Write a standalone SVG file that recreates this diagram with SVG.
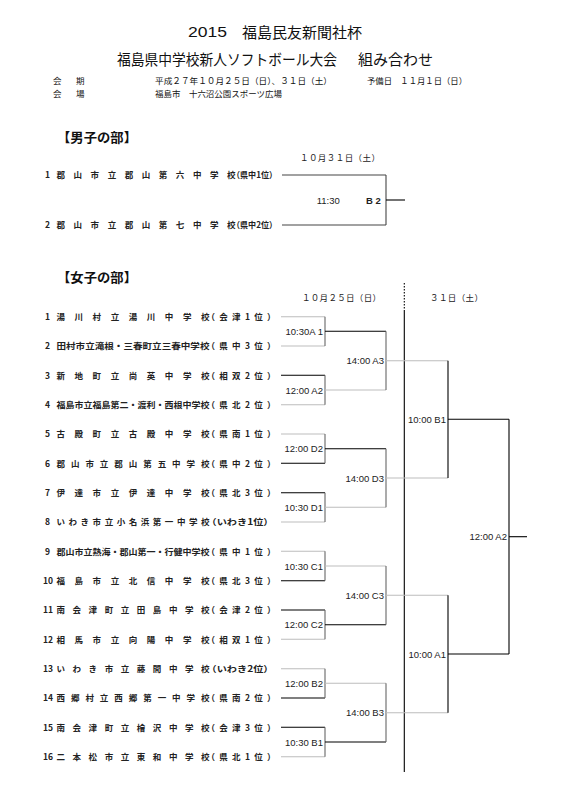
<svg xmlns="http://www.w3.org/2000/svg" width="570" height="787" viewBox="0 0 570 787">
<style>
.j{font-family:"Noto Sans CJK JP","Noto Sans CJK SC",sans-serif;fill:#111}
.ttl{font-size:15px}
.info{font-size:8.5px}
.sec{font-size:13px;font-weight:bold}
.team{font-size:8.5px;font-weight:bold;fill:#222}
.hd{font-size:8.5px;fill:#222}
.tm{font-family:"Liberation Sans",Arial,sans-serif;font-size:9.5px;fill:#222}
.lat{font-family:"Liberation Sans",Arial,sans-serif;font-size:15.5px;fill:#111}
line{stroke-width:1.1;fill:none}
.k{stroke:#000}
.g{stroke:#bdbdbd}
.m{stroke:#666}
.d{stroke:#444}
</style>
<rect width="570" height="787" fill="#fff"/>

<g id="title">
<text class="lat" x="188" y="37" textLength="39" lengthAdjust="spacingAndGlyphs">2015</text>
<text class="j ttl" x="242" y="37.5" textLength="120" lengthAdjust="spacingAndGlyphs">福島民友新聞社杯</text>
<text class="j ttl" x="117" y="65" textLength="220" lengthAdjust="spacingAndGlyphs">福島県中学校新人ソフトボール大会</text>
<text class="j ttl" x="358" y="65" textLength="75" lengthAdjust="spacingAndGlyphs">組み合わせ</text>
</g>
<g id="info">
<text class="j info" x="53" y="84.2">会</text>
<text class="j info" x="76" y="84.2">期</text>
<text class="j info" x="155" y="84.2" textLength="177" lengthAdjust="spacingAndGlyphs">平成２７年１０月２５日（日）、３１日（土）</text>
<text class="j info" x="367" y="84.2" textLength="100" lengthAdjust="spacingAndGlyphs">予備日　１１月１日（日）</text>
<text class="j info" x="53" y="97.2">会</text>
<text class="j info" x="76" y="97.2">場</text>
<text class="j info" x="155" y="97.2" textLength="127" lengthAdjust="spacingAndGlyphs">福島市　十六沼公園スポーツ広場</text>
</g>

<g id="boys-header">
<text class="j sec" x="57" y="141.6" textLength="80" lengthAdjust="spacingAndGlyphs">【男子の部】</text>
<text class="j hd" x="300" y="161.4" textLength="80" lengthAdjust="spacing">１０月３１日（土）</text>
</g>
<g id="boys-1"><text class="j team" x="45" y="178.2">1</text><text class="j team" x="56.5" y="178.2" textLength="179" lengthAdjust="spacing">郡山市立郡山第六中学校</text><text class="j team" x="232" y="178.2" textLength="45" lengthAdjust="spacingAndGlyphs">（県中1位）</text></g>
<g id="boys-2"><text class="j team" x="45" y="228.2">2</text><text class="j team" x="56.5" y="228.2" textLength="179" lengthAdjust="spacing">郡山市立郡山第七中学校</text><text class="j team" x="232" y="228.2" textLength="45" lengthAdjust="spacingAndGlyphs">（県中2位）</text></g>
<g id="boys-match"><text class="tm" x="316.7" y="203.5">11:30</text><text class="tm" x="366" y="203.5" font-weight="bold">B 2</text></g>

<g id="girls-header">
<text class="j sec" x="57" y="281.6" textLength="80" lengthAdjust="spacingAndGlyphs">【女子の部】</text>
<text class="j hd" x="302" y="301.2" textLength="79" lengthAdjust="spacing">１０月２５日（日）</text>
<text class="j hd" x="430" y="301.2" textLength="53" lengthAdjust="spacing">３１日（土）</text>
</g>

<g id="g1"><text class="j team" x="45" y="319.9">1</text><text class="j team" x="56.5" y="319.9" textLength="153" lengthAdjust="spacing">湯川村立湯川中学校</text><text class="j team" x="206.5" y="319.9" textLength="69" lengthAdjust="spacing">（会津1位）</text></g>
<g id="g2"><text class="j team" x="45" y="349.2">2</text><text class="j team" x="56.5" y="349.2" textLength="153" lengthAdjust="spacingAndGlyphs">田村市立滝根・三春町立三春中学校</text><text class="j team" x="206.5" y="349.2" textLength="69" lengthAdjust="spacing">（県中3位）</text></g>
<g id="g3"><text class="j team" x="45" y="378.5">3</text><text class="j team" x="56.5" y="378.5" textLength="153" lengthAdjust="spacing">新地町立尚英中学校</text><text class="j team" x="206.5" y="378.5" textLength="69" lengthAdjust="spacing">（相双2位）</text></g>
<g id="g4"><text class="j team" x="45" y="407.9">4</text><text class="j team" x="56.5" y="407.9" textLength="153" lengthAdjust="spacingAndGlyphs">福島市立福島第二・渡利・西根中学校</text><text class="j team" x="206.5" y="407.9" textLength="69" lengthAdjust="spacing">（県北2位）</text></g>
<g id="g5"><text class="j team" x="45" y="437.2">5</text><text class="j team" x="56.5" y="437.2" textLength="153" lengthAdjust="spacing">古殿町立古殿中学校</text><text class="j team" x="206.5" y="437.2" textLength="69" lengthAdjust="spacing">（県南1位）</text></g>
<g id="g6"><text class="j team" x="45" y="466.5">6</text><text class="j team" x="56.5" y="466.5" textLength="153" lengthAdjust="spacing">郡山市立郡山第五中学校</text><text class="j team" x="206.5" y="466.5" textLength="69" lengthAdjust="spacing">（県中2位）</text></g>
<g id="g7"><text class="j team" x="45" y="495.9">7</text><text class="j team" x="56.5" y="495.9" textLength="153" lengthAdjust="spacing">伊達市立伊達中学校</text><text class="j team" x="206.5" y="495.9" textLength="69" lengthAdjust="spacing">（県北3位）</text></g>
<g id="g8"><text class="j team" x="45" y="525.2">8</text><text class="j team" x="56.5" y="525.2" textLength="153" lengthAdjust="spacing">いわき市立小名浜第一中学校</text><text class="j team" x="206.5" y="525.2" textLength="67" lengthAdjust="spacingAndGlyphs">（いわき1位）</text></g>
<g id="g9"><text class="j team" x="45" y="554.5">9</text><text class="j team" x="56.5" y="554.5" textLength="153" lengthAdjust="spacingAndGlyphs">郡山市立熱海・郡山第一・行健中学校</text><text class="j team" x="206.5" y="554.5" textLength="69" lengthAdjust="spacing">（県中1位）</text></g>
<g id="g10"><text class="j team" x="43" y="583.9">10</text><text class="j team" x="56.5" y="583.9" textLength="153" lengthAdjust="spacing">福島市立北信中学校</text><text class="j team" x="206.5" y="583.9" textLength="69" lengthAdjust="spacing">（県北3位）</text></g>
<g id="g11"><text class="j team" x="43" y="613.2">11</text><text class="j team" x="56.5" y="613.2" textLength="153" lengthAdjust="spacing">南会津町立田島中学校</text><text class="j team" x="206.5" y="613.2" textLength="69" lengthAdjust="spacing">（会津2位）</text></g>
<g id="g12"><text class="j team" x="43" y="642.5">12</text><text class="j team" x="56.5" y="642.5" textLength="153" lengthAdjust="spacing">相馬市立向陽中学校</text><text class="j team" x="206.5" y="642.5" textLength="69" lengthAdjust="spacing">（相双1位）</text></g>
<g id="g13"><text class="j team" x="43" y="671.9">13</text><text class="j team" x="56.5" y="671.9" textLength="153" lengthAdjust="spacing">いわき市立藤間中学校</text><text class="j team" x="206.5" y="671.9" textLength="67" lengthAdjust="spacingAndGlyphs">（いわき2位）</text></g>
<g id="g14"><text class="j team" x="43" y="701.2">14</text><text class="j team" x="56.5" y="701.2" textLength="153" lengthAdjust="spacing">西郷村立西郷第一中学校</text><text class="j team" x="206.5" y="701.2" textLength="69" lengthAdjust="spacing">（県南2位）</text></g>
<g id="g15"><text class="j team" x="43" y="730.5">15</text><text class="j team" x="56.5" y="730.5" textLength="153" lengthAdjust="spacing">南会津町立檜沢中学校</text><text class="j team" x="206.5" y="730.5" textLength="69" lengthAdjust="spacing">（会津3位）</text></g>
<g id="g16"><text class="j team" x="43" y="759.9">16</text><text class="j team" x="56.5" y="759.9" textLength="153" lengthAdjust="spacing">二本松市立東和中学校</text><text class="j team" x="206.5" y="759.9" textLength="69" lengthAdjust="spacing">（県北1位）</text></g>

<g id="matches" text-anchor="end">
<text class="tm" x="323" y="334.8">10:30A 1</text>
<text class="tm" x="323" y="393.5">12:00 A2</text>
<text class="tm" x="323" y="452.2">12:00 D2</text>
<text class="tm" x="323" y="510.8">10:30 D1</text>
<text class="tm" x="323" y="569.5">10:30 C1</text>
<text class="tm" x="323" y="628.2">12:00 C2</text>
<text class="tm" x="323" y="686.8">12:00 B2</text>
<text class="tm" x="323" y="745.5">10:30 B1</text>
<text class="tm" x="384" y="364.2">14:00 A3</text>
<text class="tm" x="384" y="481.5">14:00 D3</text>
<text class="tm" x="384" y="598.8">14:00 C3</text>
<text class="tm" x="384" y="716.2">14:00 B3</text>
<text class="tm" x="446" y="422.8">10:00 B1</text>
<text class="tm" x="446" y="657.5">10:00 A1</text>
<text class="tm" x="507" y="540.2">12:00 A2</text>
</g>

<g id="connectors">
<line class="d" x1="282" y1="175" x2="386" y2="175"/>
<line class="d" x1="282" y1="225" x2="386" y2="225"/>
<line class="d" x1="386" y1="175" x2="386" y2="225"/>
<line class="k" x1="386" y1="200" x2="405" y2="200"/>
<line class="k" x1="404.3" y1="283" x2="404.3" y2="310" stroke-dasharray="1.5 1.5"/>
<line class="k" x1="404.3" y1="310" x2="404.3" y2="772"/>
<line class="g" x1="281" y1="316.7" x2="325" y2="316.7"/>
<line class="g" x1="281" y1="346" x2="325" y2="346"/>
<line class="k" x1="281" y1="375.3" x2="325" y2="375.3"/>
<line class="g" x1="281" y1="404.7" x2="325" y2="404.7"/>
<line class="g" x1="281" y1="434" x2="325" y2="434"/>
<line class="k" x1="281" y1="463.3" x2="325" y2="463.3"/>
<line class="k" x1="281" y1="492.7" x2="325" y2="492.7"/>
<line class="g" x1="281" y1="522" x2="325" y2="522"/>
<line class="g" x1="281" y1="551.3" x2="325" y2="551.3"/>
<line class="k" x1="281" y1="580.7" x2="325" y2="580.7"/>
<line class="k" x1="281" y1="610" x2="325" y2="610"/>
<line class="g" x1="281" y1="639.3" x2="325" y2="639.3"/>
<line class="g" x1="281" y1="668.7" x2="325" y2="668.7"/>
<line class="k" x1="281" y1="698" x2="325" y2="698"/>
<line class="k" x1="281" y1="727.3" x2="325" y2="727.3"/>
<line class="g" x1="281" y1="756.7" x2="325" y2="756.7"/>
<line class="m" x1="325" y1="316.7" x2="325" y2="346"/>
<line class="m" x1="325" y1="375.3" x2="325" y2="404.7"/>
<line class="m" x1="325" y1="434" x2="325" y2="463.3"/>
<line class="m" x1="325" y1="492.7" x2="325" y2="522"/>
<line class="m" x1="325" y1="551.3" x2="325" y2="580.7"/>
<line class="m" x1="325" y1="610" x2="325" y2="639.3"/>
<line class="m" x1="325" y1="668.7" x2="325" y2="698"/>
<line class="m" x1="325" y1="727.3" x2="325" y2="756.7"/>
<line class="k" x1="325" y1="331.3" x2="386" y2="331.3"/>
<line class="g" x1="325" y1="390" x2="386" y2="390"/>
<line class="k" x1="325" y1="448.7" x2="386" y2="448.7"/>
<line class="g" x1="325" y1="507.3" x2="386" y2="507.3"/>
<line class="g" x1="325" y1="566" x2="386" y2="566"/>
<line class="k" x1="325" y1="624.7" x2="386" y2="624.7"/>
<line class="g" x1="325" y1="683.3" x2="386" y2="683.3"/>
<line class="k" x1="325" y1="742" x2="386" y2="742"/>
<line class="m" x1="386" y1="331.3" x2="386" y2="390"/>
<line class="m" x1="386" y1="448.7" x2="386" y2="507.3"/>
<line class="m" x1="386" y1="566" x2="386" y2="624.7"/>
<line class="m" x1="386" y1="683.3" x2="386" y2="742"/>
<line class="g" x1="386" y1="360.7" x2="448" y2="360.7"/>
<line class="g" x1="386" y1="478" x2="448" y2="478"/>
<line class="g" x1="386" y1="595.3" x2="448" y2="595.3"/>
<line class="g" x1="386" y1="712.7" x2="448" y2="712.7"/>
<line class="k" x1="448" y1="360.7" x2="448" y2="478"/>
<line class="k" x1="448" y1="595.3" x2="448" y2="712.7"/>
<line class="k" x1="448" y1="419.3" x2="509" y2="419.3"/>
<line class="k" x1="448" y1="654" x2="509" y2="654"/>
<line class="k" x1="509" y1="419.3" x2="509" y2="654"/>
<line class="k" x1="509" y1="536.7" x2="527" y2="536.7"/>
</g>
</svg>
